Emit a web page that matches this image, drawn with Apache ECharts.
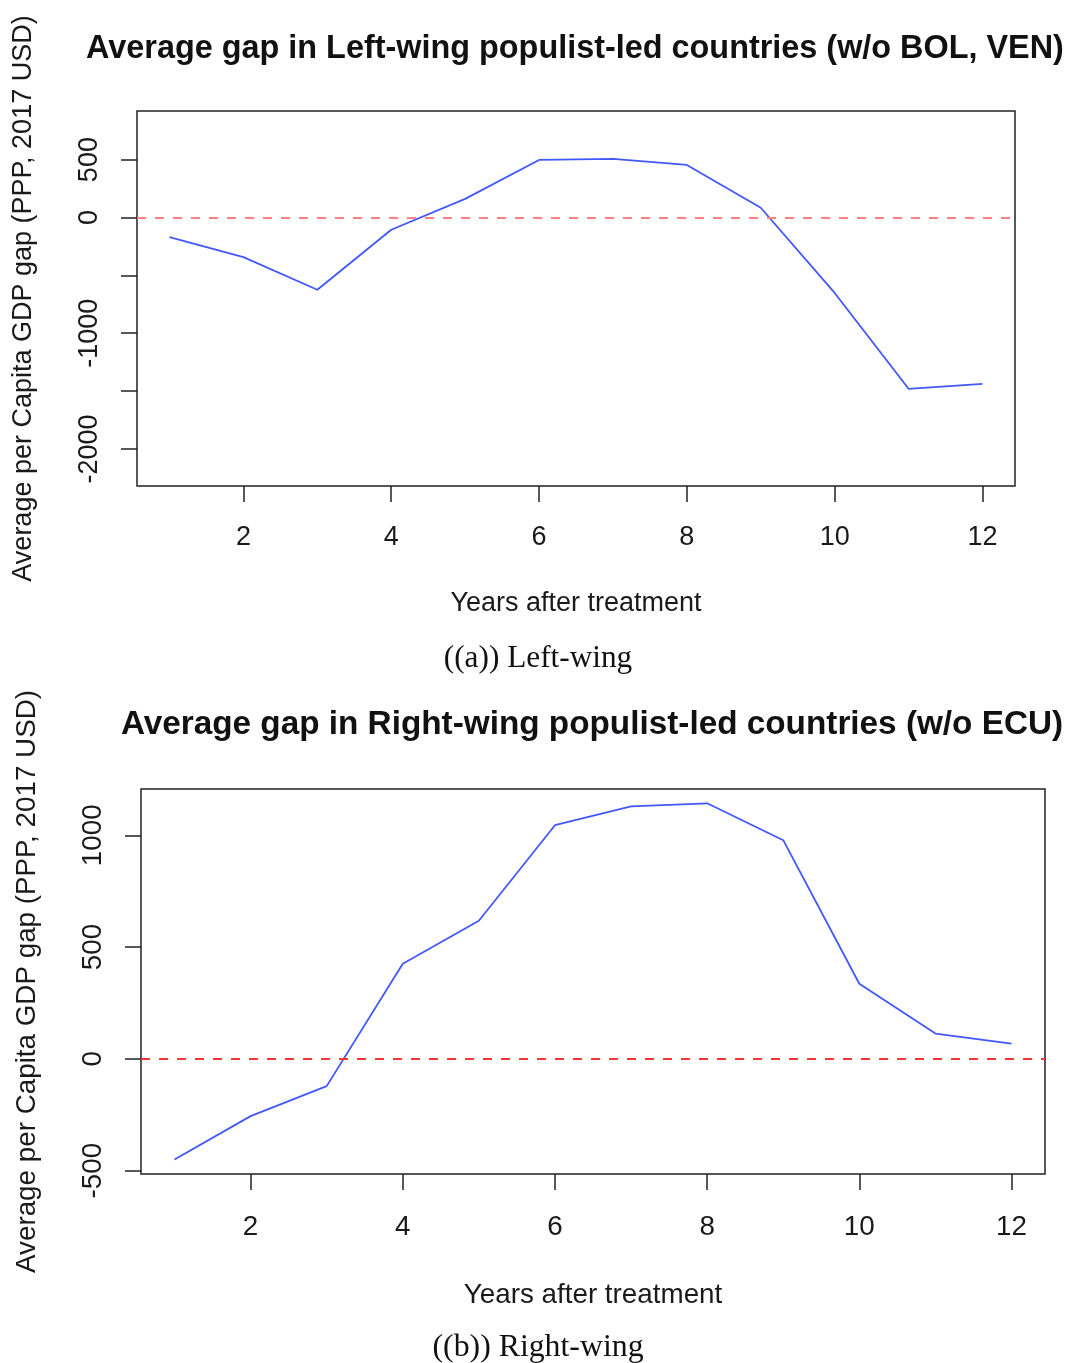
<!DOCTYPE html>
<html>
<head>
<meta charset="utf-8">
<script src="https://cdn.jsdelivr.net/npm/echarts@6/dist/echarts.min.js"></script>
<style>
  html, body { margin: 0; padding: 0; background: #fff; }
  #chart { width: 1069px; height: 1363px; }
</style>
</head>
<body>
<div id="chart"></div>
<script>
// data
const years = [1, 2, 3, 4, 5, 6, 7, 8, 9, 10, 11, 12];
const leftGap = [-170, -342, -624, -106, 161, 497, 506, 454, 84, -652, -1480, -1437];
const rightGap = [-450, -256, -122, 425, 618, 1045, 1129, 1143, 978, 336, 113, 68];
const xTicks = [2, 4, 6, 8, 10, 12];
const leftYTicks = [-2000, -1500, -1000, -500, 0, 500];
const leftYLabels = [-2000, -1000, 0, 500];
const rightYTicks = [-500, 0, 500, 1000];

const leftTitle = "Average gap in Left-wing populist-led countries (w/o BOL, VEN)";
const rightTitle = "Average gap in Right-wing populist-led countries (w/o ECU)";
const yName = "Average per Capita GDP gap (PPP, 2017 USD)";
const xName = "Years after treatment";

let chart = echarts.init(document.getElementById("chart"));

const font = "Liberation Sans, Arial, Helvetica, sans-serif";
const serif = "Liberation Serif, DejaVu Serif, serif";
const txt = "#1a1a1a";

// the lower panel is printed ~3% larger than the upper one
function xAxisFor(gridIndex, fs, labelMargin, nameGap) {
    return {
        type: "value",
        gridIndex: gridIndex,
        min: 0.56,
        max: 12.44,
        name: xName,
        nameLocation: "middle",
        nameGap: nameGap,
        nameTextStyle: { fontFamily: font, fontSize: fs, color: txt },
        axisLine: { show: false, onZero: false },
        splitLine: { show: false },
        axisTick: { show: true, inside: false, length: 16, customValues: xTicks, lineStyle: { color: "#222", width: 1.5 } },
        axisLabel: { customValues: xTicks, margin: labelMargin, fontFamily: font, fontSize: fs, color: txt }
    };
}

function yAxisFor(gridIndex, min, max, ticks, labels, fs) {
    return {
        type: "value",
        gridIndex: gridIndex,
        min: min,
        max: max,
        name: yName,
        nameLocation: "middle",
        nameGap: 100,
        nameTextStyle: { fontFamily: font, fontSize: fs, color: txt },
        axisLine: { show: false, onZero: false },
        splitLine: { show: false },
        axisTick: { show: true, inside: false, length: 16, customValues: ticks, lineStyle: { color: "#222", width: 1.5 } },
        axisLabel: {
            customValues: labels, rotate: 90, margin: 34,
            fontFamily: font, fontSize: fs, color: txt,
            formatter: v => String(v)
        }
    };
}

function lineSeries(idx, values, zeroColor) {
    return {
        type: "line",
        xAxisIndex: idx,
        yAxisIndex: idx,
        data: years.map((y, i) => [y, values[i]]),
        showSymbol: false,
        lineStyle: { color: "#4258ff", width: 1.8 },
        silent: true,
        markLine: {
            silent: true,
            symbol: ["none", "none"],
            label: { show: false },
            lineStyle: { color: zeroColor, type: [9, 9], width: 2 },
            data: [{ yAxis: 0 }]
        }
    };
}

let option = {
    backgroundColor: "#fff",
    animation: false,
    grid: [
        { left: 137, top: 111, width: 878, height: 375, show: true, borderColor: "#222", borderWidth: 1.5, backgroundColor: "transparent" },
        { left: 141, top: 789, width: 904, height: 385, show: true, borderColor: "#222", borderWidth: 1.5, backgroundColor: "transparent" }
    ],
    xAxis: [xAxisFor(0, 27, 38, 104), xAxisFor(1, 27.8, 39, 107)],
    yAxis: [
        yAxisFor(0, -2320, 920, leftYTicks, leftYLabels, 27),
        yAxisFor(1, -515, 1207, rightYTicks, rightYTicks, 27.8)
    ],
    series: [
        lineSeries(0, leftGap, "#ff8080"),
        lineSeries(1, rightGap, "#ff3535")
    ],
    graphic: [
        { type: "text", x: 575, y: 49,
          style: { text: leftTitle, fontFamily: font, fontSize: 32.4, fontWeight: "bold", fill: "#111", align: "center", verticalAlign: "middle" } },
        { type: "text", x: 592, y: 725,
          style: { text: rightTitle, fontFamily: font, fontSize: 33.3, fontWeight: "bold", fill: "#111", align: "center", verticalAlign: "middle" } },
        { type: "text", x: 538, y: 659,
          style: { text: "((a)) Left-wing", fontFamily: serif, fontSize: 31.3, fill: "#111", align: "center", verticalAlign: "middle" } },
        { type: "text", x: 538, y: 1348,
          style: { text: "((b)) Right-wing", fontFamily: serif, fontSize: 31.8, fill: "#111", align: "center", verticalAlign: "middle" } }
    ]
};
chart.setOption(option);
</script>
</body>
</html>
